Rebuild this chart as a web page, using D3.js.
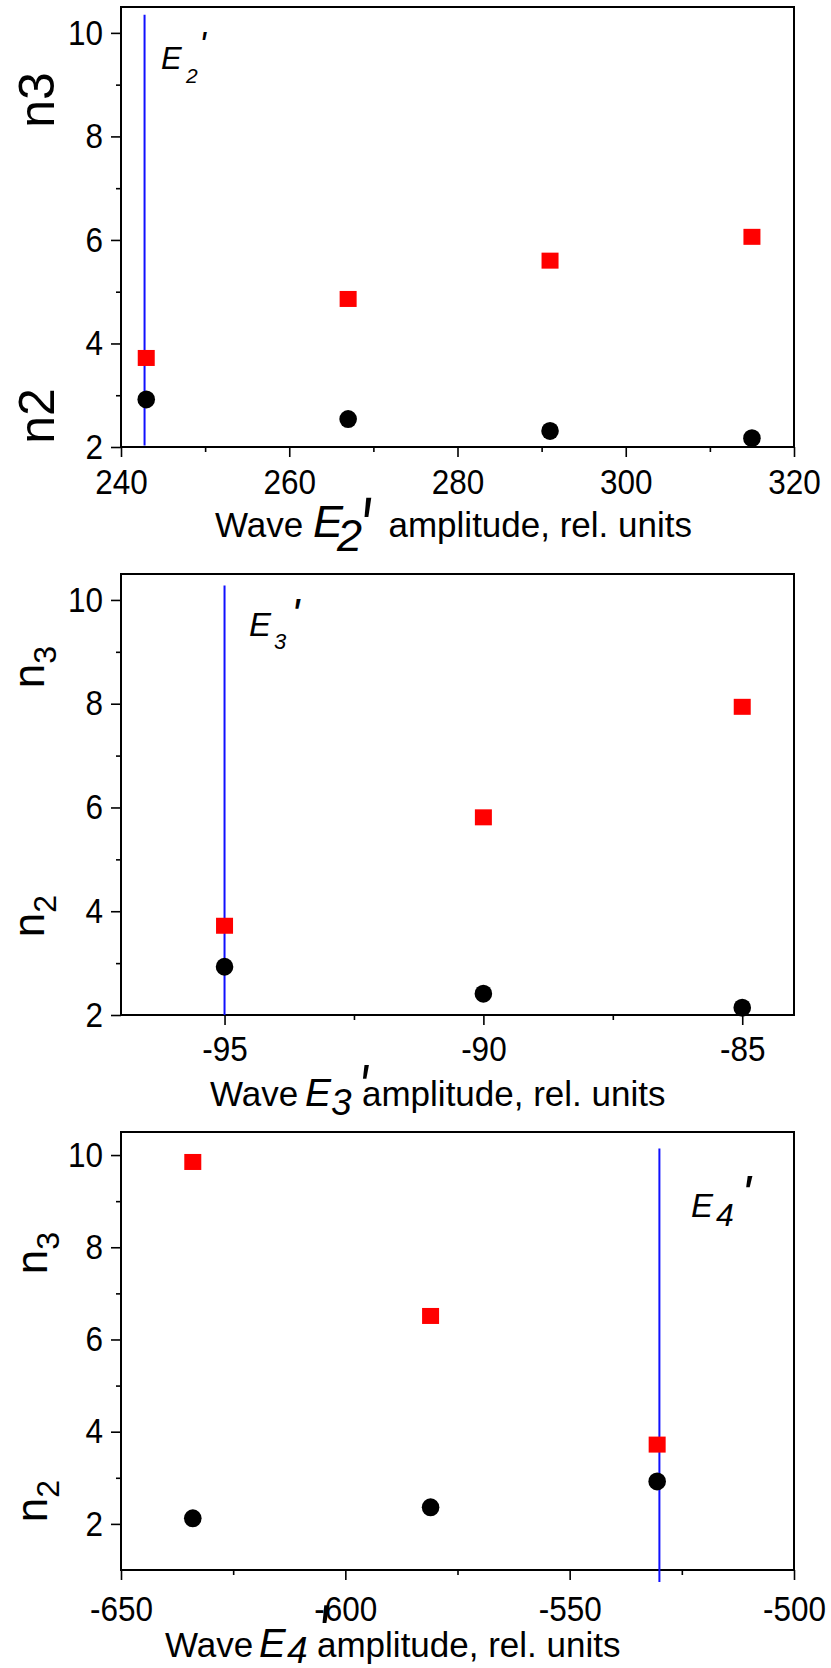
<!DOCTYPE html>
<html><head><meta charset="utf-8">
<script src="https://cdn.jsdelivr.net/npm/d3@7"></script>
<style>body{margin:0;background:#fff}svg{display:block}</style>
</head><body>
<svg id="chart" width="831" height="1668"></svg>
<script>
// ---------- data ----------
// Panel 1: wave E2'
const p1Amplitude = [243, 267, 291, 315];
const p1N3 = [3.72, 4.86, 5.60, 6.06];
const p1N2 = [2.92, 2.54, 2.31, 2.17];
const p1Marker = 242.8;
const p1XTicks = [240, 260, 280, 300, 320];
const p1XMinor = [250, 270, 290, 310];
const p1XDomain = [240, 320];
const p1YDomain = [2, 10.5];

// Panel 2: wave E3'
const p2Amplitude = [-95, -90, -85];
const p2N3 = [3.72, 5.81, 7.94];
const p2N2 = [2.93, 2.41, 2.14];
const p2Marker = -95;
const p2XTicks = [-95, -90, -85];
const p2XMinor = [-92.5, -87.5];
const p2XDomain = [-97, -84];
const p2YDomain = [2, 10.5];

// Panel 3: wave E4'
const p3Amplitude = [-634, -581, -530.5];
const p3N3 = [9.85, 6.51, 3.72];
const p3N2 = [2.12, 2.36, 2.92];
const p3Marker = -530;
const p3XTicks = [-650, -600, -550, -500];
const p3XMinor = [-625, -575, -525];
const p3XDomain = [-650, -500];
const p3YDomain = [1, 10.5];

const yTicks = [2, 4, 6, 8, 10];
const yMinor = [3, 5, 7, 9];

// ---------- layout ----------
const FONT = "'Liberation Sans', Arial, sans-serif";
const TICK_FS = 35, TICK_SX = 0.9;
const svg = d3.select("#chart");
const left = 121, right = 794;

const panels = [
  {top: 7, bottom: 447, xd: p1XDomain, yd: p1YDomain, xt: p1XTicks, xm: p1XMinor,
   xs: p1Amplitude, n3: p1N3, n2: p1N2, marker: p1Marker, markerY: [10.35, 2.03], pad: 12, sub: "2",
   mlab: {x: 161, y: 69, f: 31, sx: 186, sy: 83, sf: 21, px: 199, ptop: 32, pf: 36, ps: 1.0},
   ylab: {big: true, x: 54, y3: 100, y2: 416},
   title: {wave: 215, ex: 313, ef: 45, sx: 337, sdy: 14, sf: 45, px: 359, ptop: 495, pf: 56, ps: 1.6, amp: 388.5, base: 537}},
  {top: 574, bottom: 1015, xd: p2XDomain, yd: p2YDomain, xt: p2XTicks, xm: p2XMinor,
   xs: p2Amplitude, n3: p2N3, n2: p2N2, marker: p2Marker, markerY: [10.28, 2], pad: 11, sub: "3",
   mlab: {x: 249, y: 636, f: 33, sx: 274, sy: 649, sf: 22, px: 291, ptop: 598, pf: 44, ps: 1.0},
   ylab: {big: false, x: 44, y3: 667, y2: 916},
   title: {wave: 210, ex: 305, ef: 39, sx: 331, sdy: 9, sf: 37, px: 358, ptop: 1063, pf: 50, ps: 1.25, amp: 362, base: 1106}},
  {top: 1132, bottom: 1570, xd: p3XDomain, yd: p3YDomain, xt: p3XTicks, xm: p3XMinor,
   xs: p3Amplitude, n3: p3N3, n2: p3N2, marker: p3Marker, markerY: [10.14, 0.74], pad: 16, sub: "4",
   mlab: {x: 691, y: 1217, f: 33, sx: 716, sy: 1226, sf: 32, px: 741, ptop: 1175, pf: 52, ps: 1.0},
   ylab: {big: false, x: 47, y3: 1253, y2: 1501},
   title: {wave: 165, ex: 259, ef: 40, sx: 287, sdy: 6, sf: 37, px: 317, ptop: 1604, pf: 56, ps: 1.45, amp: 317, base: 1657}}
];

function prime(g, x, top, fs, sy) {
  // apostrophe-like prime; its top sits at cap height (0.716em) above baseline
  g.append("text")
    .attr("transform", `translate(${x},${top}) scale(1,${sy})`)
    .attr("y", fs * 0.716)
    .attr("font-family", FONT).attr("font-style", "italic").attr("font-size", fs)
    .text("'");
}

panels.forEach(p => {
  const x = d3.scaleLinear().domain(p.xd).range([left, right]);
  const y = d3.scaleLinear().domain(p.yd).range([p.bottom, p.top]);
  const g = svg.append("g");

  // minor ticks
  g.append("g").attr("transform", `translate(0,${p.bottom})`)
    .call(d3.axisBottom(x).tickValues(p.xm).tickSize(5).tickFormat(""))
    .call(a => a.select(".domain").remove())
    .call(a => a.selectAll("line").attr("stroke", "#000").attr("stroke-width", 1.6));
  g.append("g").attr("transform", `translate(${left},0)`)
    .call(d3.axisLeft(y).tickValues(yMinor).tickSize(5).tickFormat(""))
    .call(a => a.select(".domain").remove())
    .call(a => a.selectAll("line").attr("stroke", "#000").attr("stroke-width", 1.6));

  // major ticks
  g.append("g").attr("transform", `translate(0,${p.bottom})`)
    .call(d3.axisBottom(x).tickValues(p.xt).tickSize(10).tickPadding(p.pad).tickFormat(d3.format("d")))
    .call(a => a.select(".domain").remove())
    .call(a => a.selectAll("line").attr("stroke", "#000").attr("stroke-width", 1.6))
    .call(a => a.selectAll("text").attr("font-family", FONT).attr("font-size", TICK_FS).attr("fill", "#000")
      .attr("transform", `scale(${TICK_SX},1)`)
      .text(d => d < 0 ? "-" + Math.abs(d) : d));
  g.append("g").attr("transform", `translate(${left},0)`)
    .call(d3.axisLeft(y).tickValues(yTicks).tickSize(10).tickPadding(8).tickFormat(d3.format("d")))
    .call(a => a.select(".domain").remove())
    .call(a => a.selectAll("line").attr("stroke", "#000").attr("stroke-width", 1.6))
    .call(a => a.selectAll("text").attr("font-family", FONT).attr("font-size", TICK_FS).attr("fill", "#000")
      .attr("transform", `scale(${TICK_SX},1)`).attr("x", -18 / TICK_SX));

  // frame
  g.append("rect").attr("x", left).attr("y", p.top)
    .attr("width", right - left).attr("height", p.bottom - p.top)
    .attr("fill", "none").attr("stroke", "#000").attr("stroke-width", 2);

  // blue marker line
  g.append("line")
    .attr("x1", x(p.marker)).attr("x2", x(p.marker))
    .attr("y1", y(p.markerY[0])).attr("y2", y(p.markerY[1]))
    .attr("stroke", "#1010ff").attr("stroke-width", 2);

  // red squares (n3)
  const sq = 17;
  g.selectAll("rect.n3").data(p.xs.map((v, i) => [v, p.n3[i]])).join("rect")
    .attr("class", "n3")
    .attr("x", d => x(d[0]) - sq / 2).attr("y", d => y(d[1]) - 8)
    .attr("width", sq).attr("height", 16).attr("fill", "#ff0000");

  // black circles (n2)
  g.selectAll("ellipse.n2").data(p.xs.map((v, i) => [v, p.n2[i]])).join("ellipse")
    .attr("class", "n2")
    .attr("cx", d => x(d[0])).attr("cy", d => y(d[1]))
    .attr("rx", 8.8).attr("ry", 9).attr("fill", "#000");

  // marker label E'
  const m = p.mlab;
  g.append("text").attr("x", m.x).attr("y", m.y).attr("font-family", FONT)
    .attr("font-style", "italic").attr("font-size", m.f).text("E");
  g.append("text").attr("x", m.sx).attr("y", m.sy).attr("font-family", FONT)
    .attr("font-style", "italic").attr("font-size", m.sf).text(p.sub);
  prime(g, m.px, m.ptop, m.pf, m.ps);

  // y-axis labels n3 / n2
  const yl = p.ylab;
  [["3", yl.y3], ["2", yl.y2]].forEach(([s, cy]) => {
    const t = g.append("text")
      .attr("transform", `translate(${yl.x},${cy}) rotate(-90)`)
      .attr("text-anchor", "middle").attr("font-family", FONT).attr("fill", "#000");
    if (yl.big) {
      t.attr("font-size", 50).text("n" + s);
    } else {
      t.attr("font-size", 44);
      t.append("tspan").text("n");
      t.append("tspan").attr("font-size", 32).attr("dy", 12).text(s);
    }
  });

  // x-axis title
  const tt = p.title;
  g.append("text").attr("x", tt.wave).attr("y", tt.base).attr("font-family", FONT)
    .attr("font-size", 35).text("Wave");
  g.append("text").attr("x", tt.ex).attr("y", tt.base).attr("font-family", FONT)
    .attr("font-style", "italic").attr("font-size", tt.ef).text("E");
  g.append("text").attr("x", tt.sx).attr("y", tt.base + tt.sdy).attr("font-family", FONT)
    .attr("font-style", "italic").attr("font-size", tt.sf).text(p.sub);
  prime(g, tt.px, tt.ptop, tt.pf, tt.ps);
  g.append("text").attr("x", tt.amp).attr("y", tt.base).attr("font-family", FONT)
    .attr("font-size", 35).text("amplitude, rel. units");
});
</script>
</body></html>
